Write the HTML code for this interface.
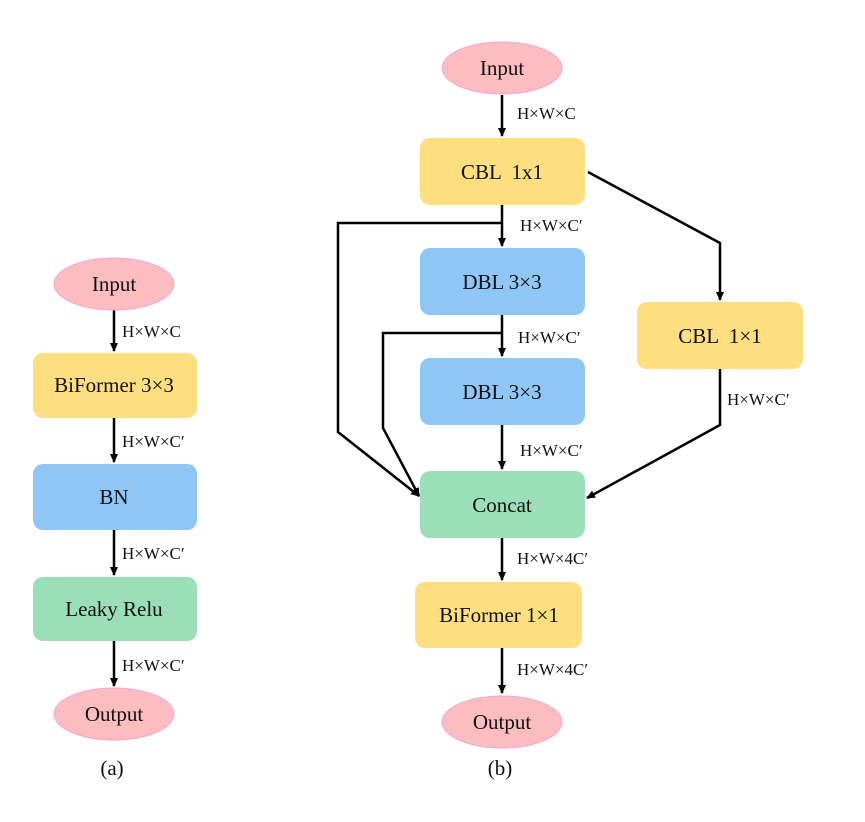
<!DOCTYPE html>
<html><head><style>body{margin:0;background:#fff}svg{display:block}text{font-family:"Liberation Serif",serif;fill:#111}</style></head><body>
<svg width="865" height="822" viewBox="0 0 865 822" xmlns="http://www.w3.org/2000/svg">
<defs><marker id="a" markerWidth="10" markerHeight="10" refX="8" refY="5" orient="auto" markerUnits="userSpaceOnUse"><path d="M0,1 L9,5 L0,9 z" fill="#000"/></marker></defs>
<g stroke="#000" stroke-width="2.5" fill="none">
<line x1="114" y1="310" x2="114" y2="351" marker-end="url(#a)"/>
<line x1="114" y1="418" x2="114" y2="462" marker-end="url(#a)"/>
<line x1="114" y1="530" x2="114" y2="575" marker-end="url(#a)"/>
<line x1="114" y1="641" x2="114" y2="686" marker-end="url(#a)"/>
<line x1="502" y1="95" x2="502" y2="136" marker-end="url(#a)"/>
<line x1="502" y1="205" x2="502" y2="246" marker-end="url(#a)"/>
<line x1="502" y1="315" x2="502" y2="356" marker-end="url(#a)"/>
<line x1="502" y1="425" x2="502" y2="469" marker-end="url(#a)"/>
<line x1="502" y1="538" x2="502" y2="580" marker-end="url(#a)"/>
<line x1="502" y1="648" x2="502" y2="693" marker-end="url(#a)"/>
<polyline points="502,223 338,223 338,432 419,496" marker-end="url(#a)"/>
<polyline points="502,333 383,333 383,428 419,496" marker-end="url(#a)"/>
<polyline points="588,172 720,243 720,300" marker-end="url(#a)"/>
<polyline points="720,369 720,425 587,498" marker-end="url(#a)"/>
</g>
<ellipse cx="114" cy="284" rx="60" ry="26" fill="#fbbdc0" stroke="#f2a6d8" stroke-width="1"/>
<ellipse cx="114" cy="714" rx="60" ry="26" fill="#fbbdc0" stroke="#f2a6d8" stroke-width="1"/>
<ellipse cx="502" cy="68" rx="60" ry="26" fill="#fbbdc0" stroke="#f2a6d8" stroke-width="1"/>
<ellipse cx="502" cy="722" rx="60" ry="26" fill="#fbbdc0" stroke="#f2a6d8" stroke-width="1"/>
<rect x="33" y="353" width="164" height="65" rx="10" fill="#fedf7f"/>
<rect x="33" y="464" width="164" height="66" rx="10" fill="#8ec6f6"/>
<rect x="33" y="577" width="164" height="64" rx="10" fill="#9bdfb8"/>
<rect x="420" y="138" width="165" height="67" rx="10" fill="#fedf7f"/>
<rect x="420" y="248" width="165" height="67" rx="10" fill="#8ec6f6"/>
<rect x="420" y="358" width="165" height="67" rx="10" fill="#8ec6f6"/>
<rect x="637" y="302" width="166" height="67" rx="10" fill="#fedf7f"/>
<rect x="420" y="471" width="165" height="67" rx="10" fill="#9bdfb8"/>
<rect x="415" y="582" width="167" height="66" rx="10" fill="#fedf7f"/>
<g font-size="21" text-anchor="middle">
<text x="114" y="291">Input</text>
<text x="114" y="392">BiFormer 3×3</text>
<text x="114" y="504">BN</text>
<text x="114" y="616">Leaky Relu</text>
<text x="114" y="721">Output</text>
<text x="502" y="75">Input</text>
<text x="502" y="179" xml:space="preserve">CBL  1x1</text>
<text x="502" y="289">DBL 3×3</text>
<text x="502" y="399">DBL 3×3</text>
<text x="720" y="343" xml:space="preserve">CBL  1×1</text>
<text x="502" y="512">Concat</text>
<text x="499" y="622">BiFormer 1×1</text>
<text x="502" y="729">Output</text>
<text x="112" y="775">(a)</text>
<text x="500" y="775">(b)</text>
</g>
<g font-size="17">
<text x="122" y="337">H×W×C</text>
<text x="122" y="447">H×W×C′</text>
<text x="122" y="559">H×W×C′</text>
<text x="122" y="671">H×W×C′</text>
<text x="517" y="119">H×W×C</text>
<text x="520" y="231">H×W×C′</text>
<text x="518" y="343">H×W×C′</text>
<text x="520" y="456">H×W×C′</text>
<text x="727" y="405">H×W×C′</text>
<text x="517" y="564">H×W×4C′</text>
<text x="517" y="675">H×W×4C′</text>
</g>
</svg>
</body></html>
